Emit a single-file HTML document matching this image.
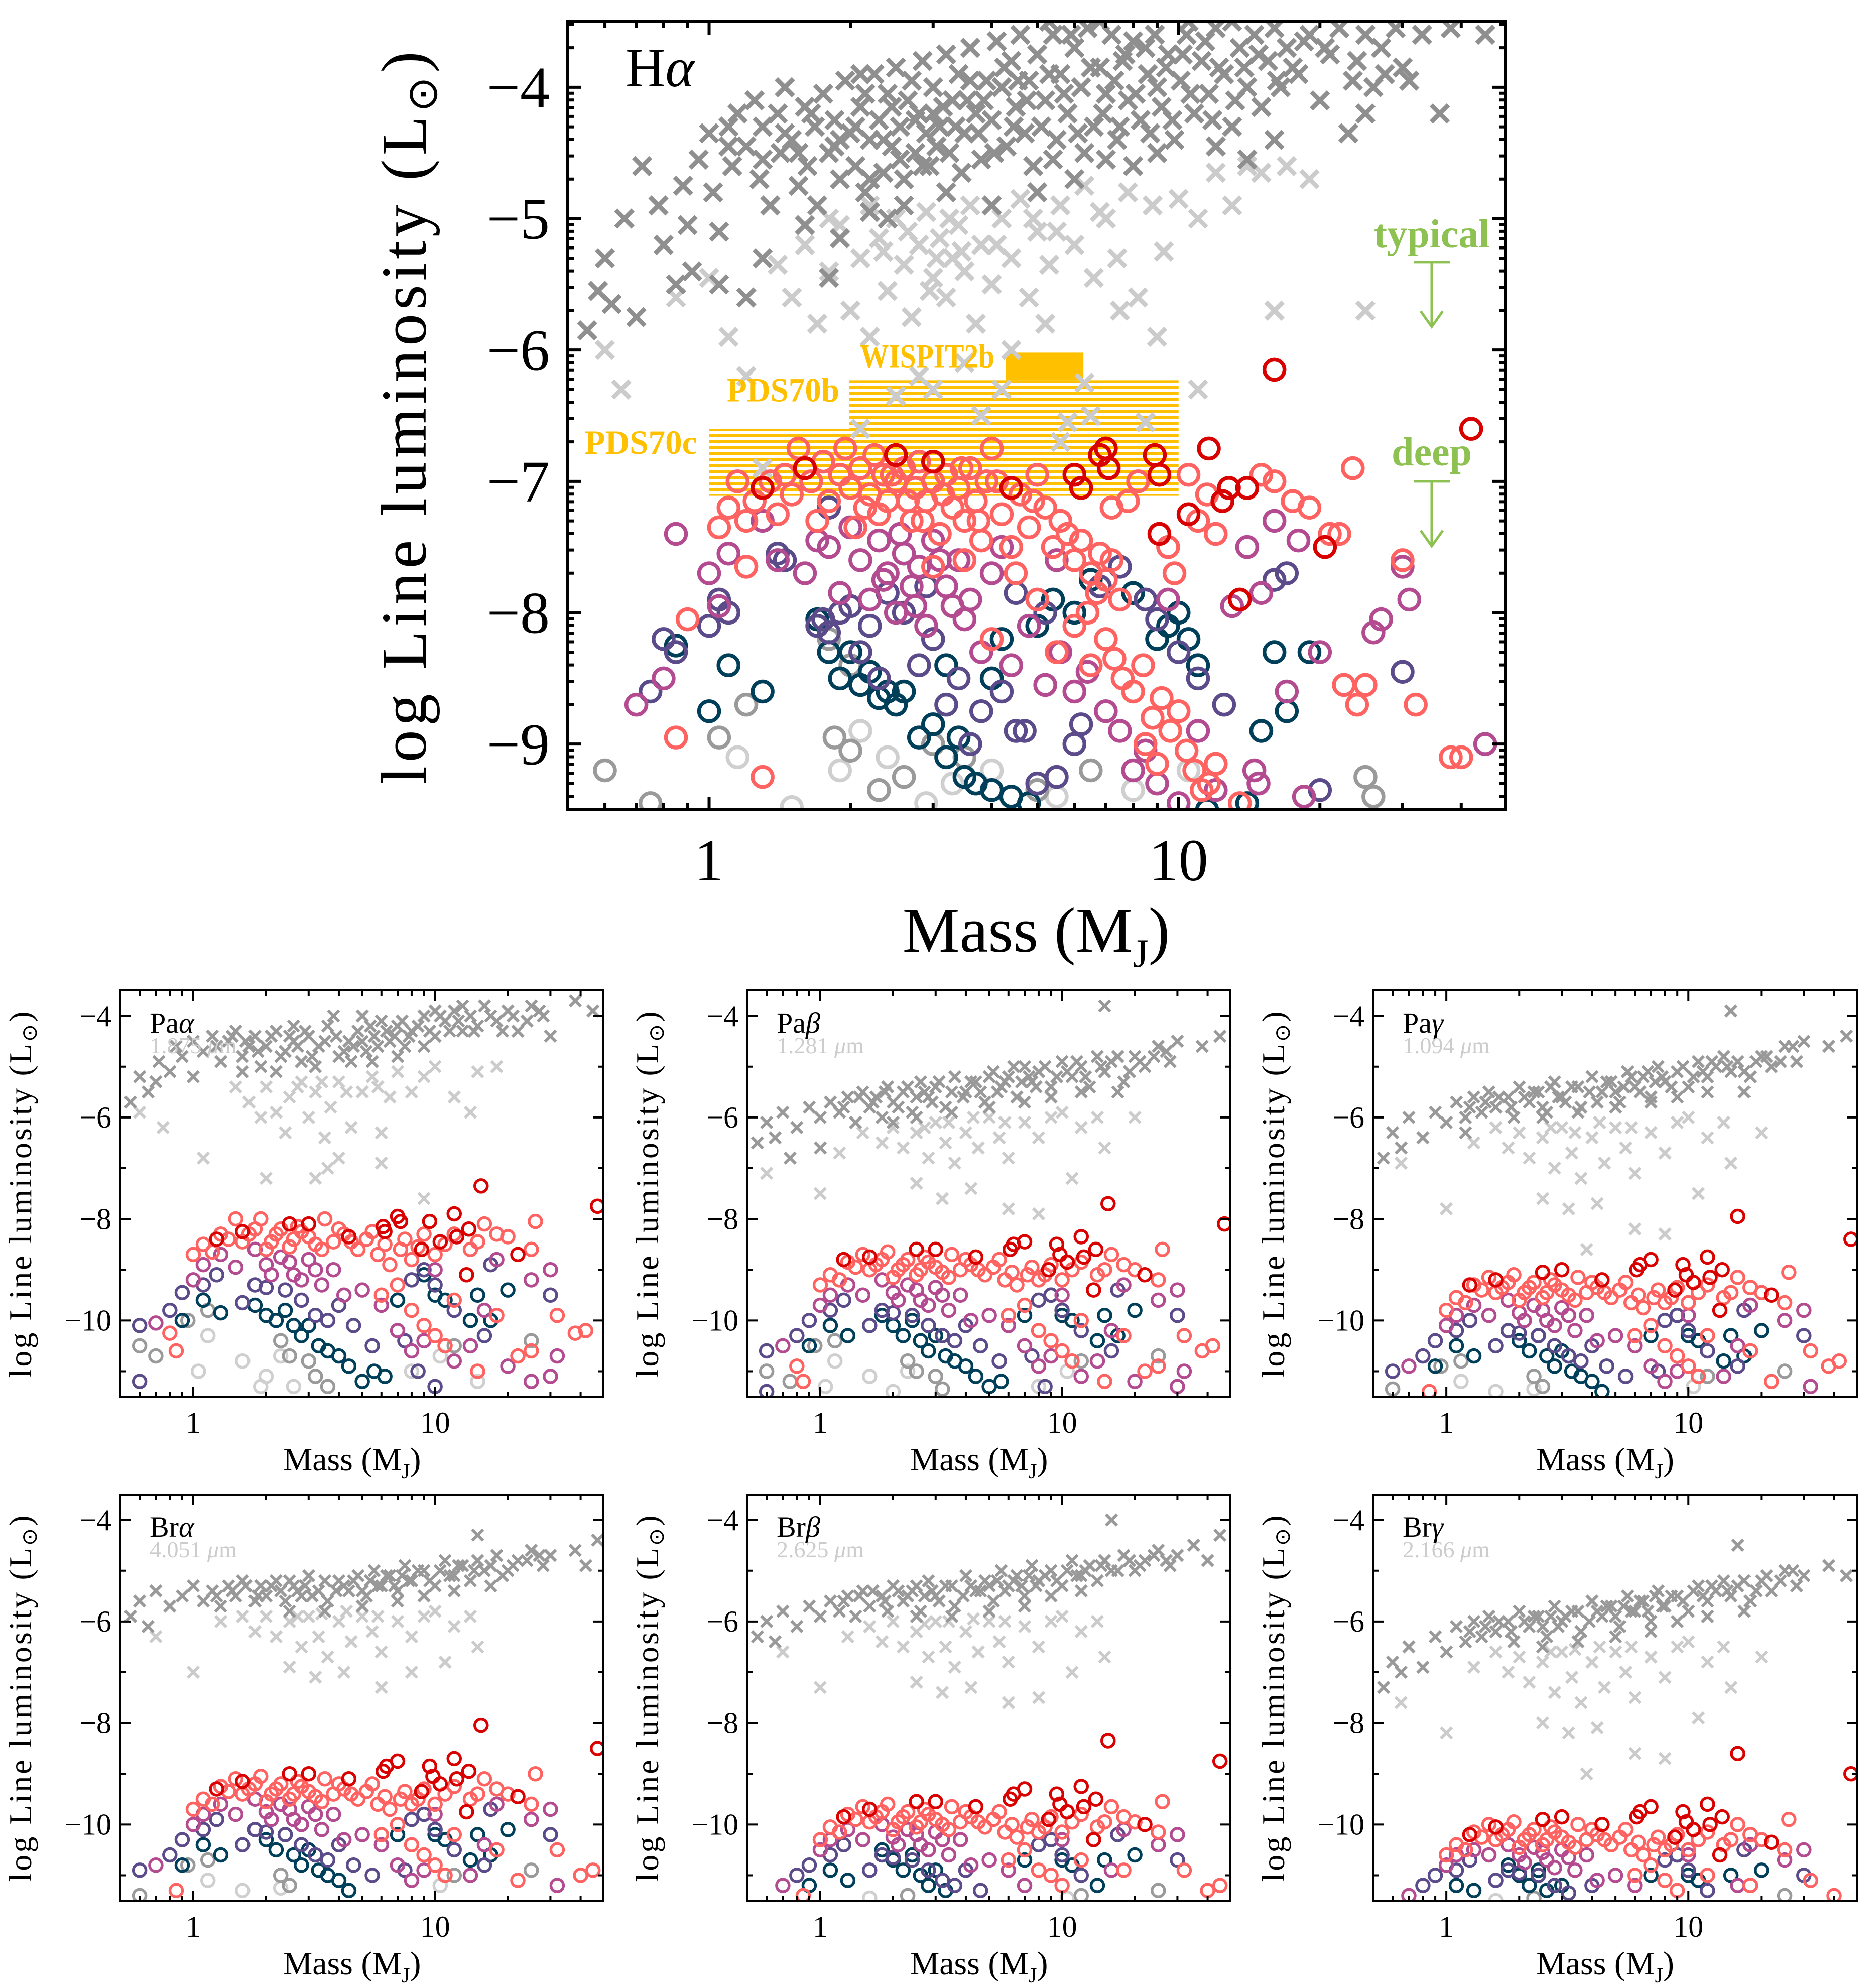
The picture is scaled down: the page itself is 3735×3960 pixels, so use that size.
<!DOCTYPE html>
<html><head><meta charset="utf-8"><title>Line luminosity vs mass</title>
<style>html,body{margin:0;padding:0;background:#fff}svg{display:block}</style></head>
<body>
<svg id="fig" xmlns="http://www.w3.org/2000/svg" width="3735" height="3960" viewBox="0 0 3735 3960" font-family="'Liberation Serif', serif">
<defs>
<pattern id="hatch" patternUnits="userSpaceOnUse" width="20" height="12"><rect x="0" y="0" width="20" height="7" fill="#ffc000"/></pattern>
</defs>
</svg>
<script>
// ---------- Hα panel data [mass (MJ), log L] ----------
const haDark=[[0.55,-5.85],[0.58,-5.55],[0.62,-5.65],[0.6,-5.3],[0.66,-5.0],[0.7,-5.75],[0.72,-4.6],[0.78,-4.9],[0.8,-5.2],[0.85,-5.5],[0.88,-4.75],[0.92,-5.4],[0.95,-4.55],[1.0,-4.35],[1.02,-4.8],[1.05,-5.1],[1.1,-4.3],[1.12,-4.6],[1.15,-4.2],[1.2,-4.45],[1.25,-4.1],[1.28,-4.7],[1.3,-4.3],[1.35,-4.9],[1.4,-4.2],[1.42,-4.5],[1.45,-4.0],[1.5,-4.4],[1.55,-4.75],[1.6,-4.15],[1.62,-4.6],[1.68,-4.3],[1.7,-4.9],[1.75,-4.05],[1.8,-4.5],[1.85,-4.25],[1.9,-4.7],[1.95,-3.95],[2.0,-4.35],[2.05,-4.6],[2.1,-4.15],[2.15,-4.8],[2.2,-4.4],[2.25,-3.9],[2.3,-4.25],[2.35,-4.65],[2.4,-4.05],[2.45,-4.45],[2.5,-3.85],[2.55,-4.3],[2.6,-4.7],[2.65,-4.1],[2.7,-3.95],[2.75,-4.5],[2.8,-4.2],[2.85,-3.8],[2.9,-4.35],[2.95,-4.6],[3.0,-4.0],[3.1,-4.3],[3.2,-3.75],[3.25,-4.5],[3.3,-4.1],[3.4,-3.9],[3.5,-4.35],[3.6,-3.7],[3.7,-4.2],[3.8,-4.55],[3.9,-3.95],[4.0,-4.25],[4.1,-3.65],[4.2,-4.0],[4.3,-4.45],[4.4,-3.8],[4.5,-4.15],[4.6,-3.6],[4.7,-4.35],[4.8,-3.95],[4.9,-4.6],[5.0,-3.75],[5.2,-4.1],[5.4,-3.6],[5.5,-4.4],[5.6,-3.9],[5.8,-4.2],[6.0,-3.7],[6.2,-4.0],[6.4,-3.55],[6.6,-4.3],[6.8,-3.85],[7.0,-4.05],[7.2,-3.6],[7.4,-4.4],[7.6,-3.8],[7.8,-4.1],[8.0,-3.65],[8.3,-4.25],[8.6,-3.9],[8.9,-3.6],[9.2,-4.15],[9.5,-3.75],[9.8,-4.4],[10.1,-3.95],[10.4,-3.6],[10.8,-4.2],[11.2,-3.8],[11.6,-4.05],[12,-3.55],[12.5,-3.9],[13,-4.3],[13.5,-3.7],[14,-4.0],[14.5,-3.6],[15,-4.15],[15.5,-3.8],[16,-3.55],[16.5,-4.0],[17,-3.7],[18,-3.9],[19,-3.6],[20,-4.1],[21,-3.75],[22,-3.55],[23,-4.35],[24,-3.8],[25,-3.6],[26,-4.0],[27,-3.7],[29,-3.55],[30,-3.85],[33,-3.6],[36,-4.2],[38,-3.55],[45,-3.6],[12,-4.45],[14,-4.55],[8,-4.6],[6,-4.7],[5,-4.8],[4,-4.9],[3.2,-4.8],[2.4,-5.0],[2.2,-4.95],[1.9,-5.15],[1.6,-5.05],[1.3,-5.3],[1.2,-5.6],[1.05,-5.5],[0.9,-5.05],[1.8,-5.45],[2.6,-4.9],[9,-4.5],[7,-4.55],[16,-4.4],[25,-4.2],[31,-3.95],[2.1,-3.9],[3.6,-3.95],[5.3,-3.5],[6.8,-3.5],[10.5,-3.5],[13,-3.5]];
const haDarkExtra=[[1.55,-4.5],[1.65,-4.2],[1.85,-4.45],[2.05,-4.3],[2.15,-4.05],[2.35,-4.4],[2.45,-4.15],[2.55,-4.55],[2.75,-4.25],[2.85,-4.6],[3.05,-4.45],[3.15,-4.15],[3.35,-4.3],[3.45,-4.65],[3.55,-4.1],[3.75,-4.35],[3.85,-4.1],[4.05,-4.5],[4.25,-3.85],[4.45,-4.3],[4.55,-3.95],[4.75,-4.1],[5.1,-4.3],[5.3,-3.9],[5.7,-4.05],[5.9,-3.6],[6.1,-4.35],[6.5,-3.85],[6.9,-4.2],[7.3,-3.95],[7.7,-3.75],[8.1,-4.05],[8.5,-3.7],[9.0,-4.0],[9.4,-3.85],[10.2,-3.75],[10.6,-4.05],[11.4,-3.65],[12.2,-3.85],[13.2,-4.1],[13.8,-3.85],[14.8,-3.75],[16.2,-3.95],[17.5,-3.85],[18.5,-3.65],[20.5,-3.7],[23.5,-3.95],[27.5,-3.9],[11.8,-4.25],[9.7,-4.25],[8.7,-4.35],[7.5,-4.3],[6.3,-4.5],[5.4,-4.55],[3.0,-4.2],[2.2,-4.7],[1.9,-4.4],[1.45,-4.35],[1.3,-4.55],[1.1,-4.45]];
const haLight=[[0.6,-6.0],[0.65,-6.3],[0.85,-5.6],[1.0,-5.45],[1.1,-5.9],[1.2,-6.2],[1.4,-5.35],[1.5,-5.6],[1.6,-5.2],[1.7,-5.8],[1.8,-5.4],[1.9,-5.05],[2.0,-5.7],[2.1,-5.3],[2.2,-5.9],[2.3,-5.15],[2.4,-5.55],[2.5,-5.0],[2.6,-5.35],[2.7,-5.75],[2.8,-5.2],[2.9,-4.95],[3.0,-5.45],[3.1,-5.15],[3.2,-5.6],[3.3,-5.3],[3.4,-5.05],[3.5,-5.4],[3.6,-4.9],[3.7,-5.8],[3.8,-5.2],[4.0,-5.5],[4.2,-5.0],[4.4,-5.3],[4.6,-4.85],[4.8,-5.6],[5.0,-5.1],[5.3,-5.35],[5.6,-4.9],[6.0,-5.2],[6.3,-4.75],[6.6,-5.45],[7.0,-5.0],[7.4,-5.3],[7.8,-4.8],[8.2,-5.6],[8.8,-4.9],[9.3,-5.25],[10,-4.85],[11,-5.0],[12,-4.65],[13,-4.9],[14,-4.6],[15,-4.65],[17,-4.6],[19,-4.7],[5.2,-5.8],[4.4,-6.0],[3.5,-6.1],[2.8,-6.2],[3.8,-6.5],[5.8,-6.55],[6.3,-6.25],[7.5,-5.7],[9,-5.9],[6.5,-6.5],[11,-6.3],[4.2,-6.3],[3.0,-6.3],[2.5,-6.35],[2.1,-6.6],[1.3,-6.9],[5.6,-6.7],[8.5,-6.55],[16,-5.7],[25,-5.7],[2.2,-4.9],[1.8,-5.0],[2.35,-5.25],[2.65,-5.1],[3.05,-5.3],[3.25,-5.0],[3.45,-5.25],[2.95,-5.55],[4.1,-5.2],[4.9,-5.0],[5.5,-5.1],[6.8,-4.95]];
const haRed=[[1.3,-7.05],[1.6,-6.9],[2.5,-6.8],[3.0,-6.85],[4.4,-7.05],[6.0,-6.95],[6.2,-7.05],[6.8,-6.8],[7.1,-6.9],[7.0,-6.75],[8.9,-6.8],[9.1,-6.95],[11.6,-6.75],[10.5,-7.25],[12.4,-7.15],[12.8,-7.05],[14.0,-7.05],[9.1,-7.4],[13.5,-7.9],[20.5,-7.5],[16,-6.15],[42,-6.6]];
const haSalmon=[[1.05,-7.35],[1.1,-7.2],[1.15,-7.0],[1.2,-7.3],[1.25,-7.15],[1.35,-7.0],[1.4,-7.25],[1.45,-6.95],[1.5,-7.1],[1.55,-6.75],[1.65,-7.0],[1.7,-7.3],[1.75,-6.85],[1.8,-7.15],[1.9,-6.95],[1.95,-6.75],[2.0,-7.05],[2.05,-7.35],[2.1,-6.9],[2.2,-7.1],[2.25,-6.8],[2.3,-7.25],[2.35,-6.95],[2.4,-7.15],[2.5,-7.0],[2.6,-6.9],[2.7,-7.3],[2.75,-7.05],[2.8,-6.85],[2.9,-7.15],[3.0,-7.0],[3.1,-7.4],[3.2,-6.95],[3.3,-7.2],[3.4,-7.05],[3.5,-7.3],[3.6,-6.9],[3.7,-7.15],[3.8,-7.45],[3.9,-7.0],[4.0,-6.75],[4.2,-7.25],[4.4,-7.5],[4.6,-7.1],[4.8,-7.35],[5.0,-6.95],[5.2,-7.2],[5.4,-7.5],[5.6,-7.3],[6.0,-7.6],[6.2,-7.45],[6.5,-7.7],[6.8,-7.55],[7.0,-7.75],[7.2,-7.6],[7.5,-7.9],[7.8,-7.15],[8.2,-7.0],[9.5,-7.5],[9.8,-7.7],[10.5,-6.95],[11,-7.3],[11.5,-7.1],[12,-7.4],[15,-6.95],[16,-7.0],[17.5,-7.15],[19,-7.2],[21,-7.4],[22,-7.4],[23.5,-6.9],[30,-7.6],[32,-8.7],[38,-9.1],[40,-9.1],[25,-8.55],[24,-8.7],[22.5,-8.55],[5,-7.9],[4.5,-7.7],[3.5,-7.6],[3.0,-7.65],[4.0,-8.2],[5.5,-8.3],[6.0,-8.1],[6.5,-8.4],[7.0,-8.2],[7.3,-8.35],[7.6,-8.5],[8,-8.6],[8.4,-8.4],[8.8,-8.8],[9.2,-8.65],[9.6,-8.9],[10,-8.75],[10.4,-9.05],[10.8,-9.2],[11.2,-9.35],[11.6,-9.3],[12,-9.15],[13.5,-9.45],[8.5,-9.0],[9.0,-9.15],[1.3,-9.25],[0.85,-8.95],[0.9,-8.05],[1.2,-7.65],[7.2,-7.2],[6.7,-7.85],[6.4,-8.0],[2.15,-7.2],[2.45,-6.95],[2.65,-7.15],[2.85,-7.3],[3.15,-7.1],[3.45,-6.9],[3.75,-7.3],[4.1,-7.0],[4.9,-7.15],[5.8,-7.4]];
const haMagenta=[[0.85,-7.4],[1.0,-7.7],[1.1,-7.55],[1.3,-7.3],[1.4,-7.6],[1.6,-7.7],[1.8,-7.5],[1.9,-7.85],[2.0,-7.35],[2.1,-7.6],[2.2,-7.9],[2.3,-7.45],[2.4,-7.7],[2.5,-8.0],[2.6,-7.55],[2.7,-7.8],[2.8,-7.65],[2.9,-8.1],[3.0,-7.45],[3.2,-7.8],[3.4,-7.6],[3.6,-7.9],[3.8,-8.3],[4.0,-7.7],[4.4,-8.4],[4.8,-8.1],[5.2,-8.55],[5.6,-8.3],[6.0,-8.6],[6.4,-8.45],[7.0,-8.75],[7.5,-8.9],[8,-9.2],[8.5,-9.05],[9,-9.3],[10,-9.45],[11,-8.9],[12,-9.35],[13,-7.95],[14,-7.5],[15,-7.85],[16,-7.3],[17,-8.6],[18,-7.45],[20,-8.3],[26,-8.15],[27,-8.05],[30,-7.65],[31,-7.9],[45,-9.0],[0.7,-8.7],[0.8,-8.5],[1.05,-7.95],[1.7,-7.45],[3.5,-8.05],[9.5,-7.9],[14.5,-9.2],[14.8,-9.3],[18.5,-9.4],[5.5,-7.6],[4.2,-7.5],[2.35,-7.75],[2.55,-7.4],[2.75,-7.95],[3.1,-7.6],[3.3,-7.95]];
const haPurple=[[0.8,-8.2],[0.85,-8.3],[1.0,-8.1],[1.05,-7.9],[1.1,-8.0],[1.4,-7.55],[1.45,-7.6],[1.7,-8.1],[1.75,-8.05],[1.8,-8.15],[1.9,-8.0],[2.0,-7.95],[2.1,-8.3],[2.2,-8.1],[2.3,-8.5],[2.6,-8.0],[2.8,-8.4],[3.0,-8.2],[3.2,-8.7],[3.4,-8.5],[3.6,-9.0],[3.8,-8.75],[4.2,-8.6],[4.5,-8.9],[4.7,-8.9],[5,-9.3],[5.5,-9.25],[6,-9.0],[6.2,-8.85],[6.8,-7.8],[7.5,-7.65],[8.5,-7.9],[9,-8.05],[10,-8.3],[11,-8.5],[12.5,-8.7],[16,-7.75],[17,-7.7],[20,-9.35],[30,-8.45],[0.75,-8.6],[1.8,-7.2],[4.5,-7.85],[5.2,-8.0],[2.4,-7.85],[2.9,-7.8]];
const haTeal=[[0.85,-8.25],[1.0,-8.75],[1.1,-8.4],[1.3,-8.6],[1.7,-8.05],[1.8,-8.3],[1.9,-8.5],[2.0,-8.3],[2.1,-8.55],[2.2,-8.45],[2.3,-8.65],[2.5,-8.7],[2.6,-8.6],[2.8,-8.95],[2.4,-8.6],[3.0,-8.85],[3.2,-9.1],[3.4,-8.95],[3.5,-9.25],[3.7,-9.3],[4.0,-9.35],[4.4,-9.4],[4.8,-9.45],[5.0,-8.1],[5.4,-7.9],[6.0,-8.0],[6.5,-7.75],[8,-7.85],[9,-8.2],[10,-8.0],[10.5,-8.2],[11,-8.4],[9.5,-8.1],[15,-8.9],[16,-8.3],[17,-8.75],[19,-8.3],[14,-9.45],[11.5,-9.5],[3.2,-8.4],[4.0,-8.5],[4.2,-8.2]];
const haGray=[[0.6,-9.2],[0.75,-9.45],[1.05,-8.95],[1.2,-8.7],[1.85,-8.95],[2.0,-9.05],[2.3,-9.35],[2.6,-9.25],[3.0,-9.0],[3.5,-9.1],[5,-9.35],[6.5,-9.2],[25,-9.25],[26,-9.4],[2.0,-8.4],[1.8,-8.2]];
const haLGray=[[1.15,-9.1],[1.5,-9.48],[1.9,-9.2],[2.4,-9.1],[2.9,-9.45],[3.3,-9.3],[4,-9.2],[5.5,-9.4],[8,-9.35],[10.5,-9.2],[2.1,-8.9]];
// observed planets: [mass min, mass max, logL top, logL bottom]
const pdsC=[1.0,10.0,-6.6,-7.11];
const pdsB=[1.99,10.0,-6.23,-6.6];
const wispit=[4.28,6.27,-6.02,-6.23];
// sensitivity limits (log L)
const typicalLimit=-5.33;
const deepLimit=-7.0;
// axis ticks
const haYTicks=[-9,-8,-7,-6,-5,-4];
const smYTicks=[-10,-8,-6,-4];
const xTickVals=[1,10];

// ---------- small panels ----------
const paaDark=[[0.55,-5.7],[0.6,-5.2],[0.65,-5.5],[0.72,-4.9],[0.8,-5.1],[0.85,-4.6],[0.9,-4.8],[1.0,-4.5],[1.1,-4.7],[1.2,-4.4],[1.3,-4.9],[1.4,-4.5],[1.5,-4.3],[1.6,-4.8],[1.7,-4.6],[1.8,-4.4],[1.9,-5.0],[2.0,-4.6],[2.2,-4.3],[2.4,-4.7],[2.6,-4.5],[2.8,-4.9],[3.0,-4.4],[3.3,-4.6],[3.6,-4.2],[4.0,-4.8],[4.4,-4.5],[4.8,-4.3],[5.2,-4.7],[5.6,-4.4],[6,-4.1],[6.5,-4.5],[7,-4.2],[7.5,-4.6],[8,-4.3],[9,-4.0],[10,-4.4],[11,-4.1],[12,-3.9],[13,-4.3],[14,-4.0],[15,-4.2],[16,-3.8],[18,-4.1],[20,-3.9],[22,-4.3],[25,-3.8],[28,-4.0],[30,-4.4],[38,-3.7],[45,-3.9],[1.6,-5.1],[2.2,-5.1],[3.2,-5.0],[4.5,-4.9],[5.5,-4.9],[7,-4.8],[9,-4.6],[2.6,-4.2],[3.8,-4.0],[5,-4.0],[10,-3.9],[13,-3.8],[0.7,-5.3],[1.0,-5.2],[1.25,-4.6],[1.45,-4.4],[1.65,-4.5],[1.85,-4.7],[2.1,-4.4],[2.3,-4.8],[2.5,-4.4],[2.7,-4.6],[2.9,-4.3],[3.1,-4.8],[3.5,-4.5],[3.9,-4.4],[4.2,-4.7],[4.6,-4.6],[5.0,-4.5],[5.4,-4.2],[5.8,-4.6],[6.3,-4.3],[6.8,-4.4],[7.3,-4.1],[7.8,-4.4],[8.5,-4.2],[9.5,-4.3],[10.5,-4.0],[11.5,-4.3],[12.5,-4.1],[14.5,-4.3],[17,-4.0],[19,-4.3],[21,-4.0],[24,-4.1],[27,-3.9]];
const paaLight=[[0.6,-5.9],[1.5,-5.4],[1.7,-5.7],[1.9,-6.0],[2.0,-5.4],[2.2,-5.9],[2.4,-6.3],[2.5,-5.6],[2.8,-5.3],[3.0,-6.0],[3.2,-5.5],[3.5,-6.4],[3.7,-5.8],[4.0,-5.3],[4.5,-6.2],[5,-5.5],[5.5,-5.2],[6,-6.3],[6.5,-5.6],[7,-5.1],[8,-5.5],[9,-5.2],[10,-5.0],[12,-5.6],[15,-5.1],[3.2,-7.2],[2.0,-7.2],[3.6,-7.0],[4.0,-6.8],[1.1,-6.8],[0.75,-6.2],[6,-6.9],[9,-7.6],[14,-5.9],[18,-5.0],[2.7,-5.4],[3.4,-5.3],[4.3,-5.5],[5.8,-5.4]];
const paaRed=[[1.25,-8.4],[1.6,-8.25],[2.5,-8.1],[3.0,-8.1],[4.4,-8.35],[6.1,-8.15],[6.2,-8.25],[7.0,-7.95],[7.2,-8.05],[9.5,-8.05],[10.5,-8.45],[12,-7.9],[12.3,-8.35],[13.8,-8.2],[8.8,-8.6],[13.5,-9.1],[22,-8.7],[15.5,-7.35],[47,-7.75]];
const paaSalmon=[[1.0,-8.7],[1.1,-8.5],[1.2,-8.65],[1.4,-8.4],[1.5,-8.0],[1.7,-8.3],[1.9,-8.0],[2.1,-8.45],[2.3,-8.2],[2.6,-8.4],[2.8,-8.25],[3.2,-8.5],[3.5,-8.0],[3.8,-8.45],[4.2,-8.3],[4.8,-8.6],[5.2,-8.4],[5.8,-8.7],[6.5,-8.9],[7.2,-8.6],[8,-8.8],[9,-8.3],[10,-8.7],[11,-8.5],[14,-8.6],[16,-8.1],[18,-8.3],[20,-8.35],[25,-8.6],[26,-8.05],[32,-9.9],[38,-10.25],[42,-10.2],[6,-9.5],[7,-9.3],[8,-9.8],[9,-10.1],[10,-10.3],[11,-10.5],[12,-9.6],[18,-9.9],[22,-10.7],[25,-10.6],[15,-11.0],[0.8,-10.25],[0.85,-10.6],[1.3,-8.3],[1.6,-8.45],[1.8,-8.2],[2.0,-8.6],[2.2,-8.3],[2.5,-8.55],[2.7,-8.15],[3.0,-8.35],[3.4,-8.6],[4.0,-8.2],[4.5,-8.45],[5.5,-8.25],[6.2,-8.5],[7.5,-8.4],[8.5,-8.55],[12,-8.3],[15,-8.45]];
const paaMagenta=[[0.7,-10.05],[1.0,-9.2],[1.1,-8.9],[1.3,-8.7],[1.5,-8.95],[1.8,-8.6],[2.0,-8.9],[2.3,-8.75],[2.6,-9.1],[3.0,-8.8],[3.4,-9.3],[3.8,-9.0],[4.2,-9.5],[5,-9.4],[6,-9.7],[7,-10.2],[8,-10.6],[9,-10.4],[10,-9.0],[12,-10.8],[14,-10.5],[16,-9.8],[18,-8.8],[20,-10.9],[25,-9.2],[30,-9.0],[32,-10.7],[30,-11.1],[25,-11.2],[2.1,-9.1],[2.5,-8.85],[2.8,-9.2],[3.2,-9.0]];
const paaPurple=[[0.6,-10.1],[0.8,-9.8],[0.9,-9.45],[1.1,-9.3],[1.25,-9.1],[1.6,-9.65],[1.8,-9.3],[2.0,-9.35],[2.4,-9.4],[2.8,-9.6],[3.2,-9.9],[3.6,-10.0],[4.0,-9.7],[4.6,-10.1],[5.5,-10.5],[7.5,-10.4],[8,-9.2],[9,-9.0],[10,-9.3],[12,-9.8],[16,-10.3],[17,-8.9],[30,-9.5],[0.6,-11.2],[8.5,-11.0],[10,-11.3]];
const paaTeal=[[0.9,-10.0],[1.1,-9.6],[1.3,-9.85],[1.8,-9.7],[2.0,-9.9],[2.2,-10.0],[2.4,-9.8],[2.6,-10.1],[2.8,-10.3],[3.0,-10.1],[3.3,-10.5],[3.6,-10.6],[4.0,-10.7],[4.4,-10.9],[5.0,-11.2],[5.6,-11.0],[6.2,-11.1],[7,-9.6],[9,-9.1],[10,-9.5],[11,-9.6],[14,-10.0],[15,-9.5],[20,-9.4],[17,-10.0]];
const paaGray=[[0.6,-10.5],[0.7,-10.7],[0.95,-10.0],[1.15,-9.8],[2.3,-10.4],[2.5,-10.7],[3.0,-10.8],[3.2,-11.1],[3.6,-11.3],[12,-10.5],[25,-10.4]];
const paaLGray=[[1.05,-11.0],[1.15,-10.3],[1.6,-10.8],[2.0,-11.1],[2.3,-10.7],[2.6,-11.3],[1.9,-11.3],[8,-11.0],[10.5,-10.7],[15,-11.2]];

const pabDark=[[0.55,-6.5],[0.6,-6.1],[0.65,-6.4],[0.7,-5.9],[0.8,-6.2],[0.9,-5.8],[1.0,-6.0],[1.1,-5.7],[1.2,-5.9],[1.3,-5.6],[1.4,-6.1],[1.5,-5.5],[1.6,-5.8],[1.7,-5.6],[1.8,-6.0],[1.9,-5.4],[2.0,-5.7],[2.2,-5.5],[2.4,-5.9],[2.6,-5.3],[2.8,-5.6],[3.0,-5.4],[3.3,-5.8],[3.6,-5.2],[4.0,-5.5],[4.4,-5.3],[4.8,-5.7],[5.2,-5.1],[5.6,-5.4],[6,-5.2],[6.5,-5.6],[7,-5.0],[7.5,-5.3],[8,-5.1],[9,-5.4],[10,-4.9],[11,-5.2],[12,-5.0],[13,-5.4],[14,-4.8],[15,-5.1],[16,-4.9],[18,-5.3],[20,-4.8],[22,-5.0],[25,-4.6],[28,-4.9],[30,-4.5],[38,-4.6],[45,-4.4],[15,-3.8],[2.5,-6.0],[3.5,-5.9],[5,-5.8],[7,-5.7],[9,-5.6],[12,-5.5],[17,-5.5],[2.0,-6.1],[1.0,-6.6],[0.75,-6.8],[1.25,-5.8],[1.45,-5.6],[1.65,-5.7],[1.85,-5.5],[2.1,-5.8],[2.3,-5.4],[2.5,-5.6],[2.7,-5.5],[2.9,-5.7],[3.1,-5.3],[3.5,-5.5],[3.9,-5.6],[4.2,-5.3],[4.6,-5.5],[5.0,-5.2],[5.4,-5.5],[5.8,-5.3],[6.3,-5.0],[6.8,-5.3],[7.3,-5.2],[7.8,-5.4],[8.5,-5.0],[9.5,-5.2],[10.5,-5.1],[11.5,-4.9],[12.5,-5.2],[14.5,-5.0],[17,-4.8],[19,-5.1],[21,-4.9],[24,-4.8],[27,-4.7]];
const pabLight=[[0.6,-7.1],[1.2,-6.7],[1.5,-6.3],[1.8,-6.5],[2.0,-6.2],[2.2,-6.6],[2.5,-6.3],[2.8,-6.8],[3.0,-6.1],[3.3,-6.5],[3.6,-6.9],[4.0,-6.3],[4.5,-6.6],[5,-6.0],[5.5,-6.4],[6,-6.8],[7,-6.1],[8,-6.4],[9,-6.0],[10,-5.9],[12,-6.2],[14,-6.0],[3.2,-7.6],[2.5,-7.3],[4.2,-7.4],[6,-7.8],[8,-7.9],[11,-7.2],[15,-6.6],[20,-6.0],[1.0,-7.5],[2.7,-6.2],[3.4,-6.1],[4.3,-6.0],[5.8,-6.1]];
const pabRed=[[1.25,-8.8],[1.6,-8.75],[2.5,-8.6],[3.0,-8.6],[4.4,-8.75],[6.1,-8.6],[6.3,-8.5],[7.0,-8.45],[9.5,-8.5],[10.5,-8.85],[12,-8.35],[12.3,-8.75],[13.8,-8.6],[8.8,-9.0],[13.5,-9.4],[22,-9.1],[15.5,-7.7],[47,-8.1],[9.8,-8.7]];
const pabSalmon=[[1.0,-9.3],[1.1,-9.1],[1.2,-9.2],[1.4,-8.95],[1.5,-8.7],[1.7,-8.9],[1.9,-8.65],[2.1,-9.0],[2.3,-8.8],[2.6,-9.0],[2.8,-8.85],[3.2,-9.05],[3.5,-8.7],[3.8,-9.0],[4.2,-8.9],[4.8,-9.1],[5.2,-8.95],[5.8,-9.2],[6.5,-9.3],[7.2,-9.1],[8,-9.2],[9,-8.9],[10,-9.2],[11,-9.0],[14,-9.1],[16,-8.7],[18,-8.9],[20,-9.0],[25,-9.2],[26,-8.6],[32,-10.3],[38,-10.6],[42,-10.5],[6,-9.9],[7,-9.7],[8,-10.2],[9,-10.4],[10,-10.6],[11,-10.8],[12,-10.0],[18,-10.3],[22,-11.0],[25,-10.9],[15,-11.2],[0.8,-10.9],[0.85,-11.2],[1.3,-8.85],[1.6,-9.0],[1.8,-8.8],[2.0,-9.15],[2.2,-8.9],[2.5,-9.1],[2.7,-8.75],[3.0,-8.95],[3.4,-9.15],[4.0,-8.8],[4.5,-9.0],[5.5,-8.8],[6.2,-9.05],[7.5,-8.95],[8.5,-9.1],[12,-8.85],[15,-9.0]];
const pabMagenta=[[0.7,-10.5],[1.0,-9.7],[1.1,-9.5],[1.3,-9.3],[1.5,-9.5],[1.8,-9.2],[2.0,-9.45],[2.3,-9.3],[2.6,-9.6],[3.0,-9.35],[3.4,-9.8],[3.8,-9.5],[4.2,-10.0],[5,-9.9],[6,-10.1],[7,-10.5],[8,-10.9],[9,-10.7],[10,-9.5],[12,-11.1],[14,-10.8],[16,-10.2],[18,-9.3],[20,-11.2],[25,-9.6],[30,-9.4],[32,-11.0],[30,-11.3],[2.1,-9.6],[2.5,-9.4],[2.8,-9.7],[3.2,-9.5]];
const pabPurple=[[0.6,-10.6],[0.8,-10.3],[0.9,-10.0],[1.1,-9.8],[1.25,-9.6],[1.6,-10.1],[1.8,-9.8],[2.0,-9.85],[2.4,-9.9],[2.8,-10.1],[3.2,-10.3],[3.6,-10.4],[4.0,-10.1],[4.6,-10.5],[5.5,-10.8],[7.5,-10.7],[8,-9.6],[9,-9.5],[10,-9.8],[12,-10.2],[16,-10.6],[17,-9.4],[30,-9.9],[0.6,-11.4],[8.5,-11.3]];
const pabTeal=[[0.9,-10.5],[1.1,-10.1],[1.3,-10.3],[1.8,-9.9],[2.0,-10.1],[2.2,-10.3],[2.4,-10.0],[2.6,-10.4],[2.8,-10.6],[3.0,-10.3],[3.3,-10.7],[3.6,-10.8],[4.0,-10.9],[4.4,-11.1],[5.0,-11.3],[5.6,-11.2],[7,-9.9],[9,-9.5],[10,-9.9],[11,-10.0],[14,-10.4],[15,-9.9],[20,-9.8],[17,-10.3]];
const pabGray=[[0.6,-11.0],[0.75,-11.2],[0.95,-10.5],[1.15,-10.4],[2.3,-10.8],[2.5,-11.0],[3.0,-11.1],[3.2,-11.35],[12,-10.8],[25,-10.7]];
const pabLGray=[[1.05,-11.3],[1.15,-10.8],[1.6,-11.1],[2.0,-11.4],[2.3,-11.0],[8,-11.3],[10.5,-11.0]];

const pagDark=[[0.55,-6.8],[0.6,-6.3],[0.7,-6.0],[0.8,-6.4],[0.9,-5.9],[1.0,-6.1],[1.1,-5.7],[1.2,-6.0],[1.3,-5.6],[1.4,-5.9],[1.5,-5.5],[1.6,-5.8],[1.8,-5.6],[1.9,-6.0],[2.0,-5.4],[2.2,-5.7],[2.4,-5.5],[2.6,-5.9],[2.8,-5.3],[3.0,-5.6],[3.3,-5.4],[3.6,-5.8],[4.0,-5.2],[4.4,-5.5],[4.8,-5.3],[5.2,-5.7],[5.6,-5.1],[6,-5.4],[6.5,-5.2],[7,-5.6],[7.5,-5.0],[8,-5.3],[9,-5.1],[10,-5.4],[11,-4.9],[12,-5.2],[13,-5.0],[14,-4.8],[15,-5.1],[16,-4.9],[18,-5.2],[20,-4.8],[22,-5.0],[25,-4.6],[28,-4.9],[30,-4.5],[38,-4.6],[45,-4.4],[15,-3.9],[2.5,-6.0],[3.5,-5.9],[5,-5.8],[7,-5.7],[9,-5.6],[12,-5.5],[17,-5.5],[1.2,-6.3],[0.65,-6.6],[1.25,-5.8],[1.45,-5.7],[1.65,-5.6],[1.85,-5.8],[2.1,-5.6],[2.3,-5.5],[2.5,-5.8],[2.7,-5.4],[2.9,-5.6],[3.1,-5.7],[3.5,-5.4],[3.9,-5.5],[4.2,-5.7],[4.6,-5.3],[5.0,-5.5],[5.4,-5.4],[5.8,-5.2],[6.3,-5.5],[6.8,-5.1],[7.3,-5.3],[7.8,-5.2],[8.5,-5.4],[9.5,-5.0],[10.5,-5.2],[11.5,-5.1],[12.5,-4.9],[14.5,-5.0],[17,-5.1],[19,-4.9],[21,-4.8],[24,-4.9],[27,-4.6]];
const pagLight=[[0.65,-6.9],[1.3,-6.5],[1.6,-6.2],[1.8,-6.6],[2.0,-6.3],[2.2,-6.8],[2.5,-6.4],[2.8,-7.0],[3.0,-6.2],[3.3,-6.7],[3.6,-7.2],[4.0,-6.4],[4.5,-6.9],[5,-6.2],[5.5,-6.6],[6,-7.1],[7,-6.3],[8,-6.7],[9,-6.1],[10,-6.0],[12,-6.4],[14,-6.1],[3.2,-7.8],[2.5,-7.6],[4.2,-7.7],[6,-8.2],[8,-8.3],[11,-7.5],[15,-6.9],[20,-6.3],[1.0,-7.8],[3.8,-8.6],[2.7,-6.2],[3.4,-6.3],[4.3,-6.1],[5.8,-6.2]];
const pagRed=[[1.25,-9.3],[1.6,-9.2],[2.5,-9.05],[3.0,-9.0],[4.4,-9.2],[6.1,-9.0],[6.3,-8.9],[7.0,-8.8],[9.5,-8.9],[10.5,-9.25],[12,-8.75],[12.3,-9.15],[13.8,-9.0],[8.8,-9.4],[13.5,-9.8],[22,-9.5],[16,-7.95],[47,-8.4],[9.8,-9.1]];
const pagSalmon=[[1.0,-9.8],[1.1,-9.55],[1.2,-9.65],[1.4,-9.4],[1.5,-9.15],[1.7,-9.35],[1.9,-9.1],[2.1,-9.45],[2.3,-9.25],[2.6,-9.45],[2.8,-9.3],[3.2,-9.5],[3.5,-9.15],[3.8,-9.45],[4.2,-9.35],[4.8,-9.55],[5.2,-9.4],[5.8,-9.65],[6.5,-9.75],[7.2,-9.55],[8,-9.65],[9,-9.35],[10,-9.65],[11,-9.45],[14,-9.55],[16,-9.15],[18,-9.35],[20,-9.45],[25,-9.65],[26,-9.05],[32,-10.6],[38,-10.9],[42,-10.8],[6,-10.3],[7,-10.1],[8,-10.5],[9,-10.7],[10,-10.9],[11,-11.1],[12,-10.3],[18,-10.6],[22,-11.2],[0.85,-11.4],[1.3,-9.3],[1.6,-9.45],[1.8,-9.25],[2.0,-9.6],[2.2,-9.35],[2.5,-9.55],[2.7,-9.2],[3.0,-9.4],[3.4,-9.6],[4.0,-9.25],[4.5,-9.45],[5.5,-9.25],[6.2,-9.5],[7.5,-9.4],[8.5,-9.55],[12,-9.3],[15,-9.45]];
const pagMagenta=[[0.7,-10.9],[1.0,-10.1],[1.1,-9.9],[1.3,-9.7],[1.5,-9.9],[1.8,-9.6],[2.0,-9.85],[2.3,-9.7],[2.6,-10.0],[3.0,-9.75],[3.4,-10.2],[3.8,-9.9],[4.2,-10.4],[5,-10.3],[6,-10.5],[7,-10.9],[8,-11.2],[9,-11.0],[10,-9.9],[14,-11.1],[16,-10.5],[18,-9.7],[25,-10.0],[30,-9.8],[32,-11.3],[2.1,-10.0],[2.5,-9.8],[2.8,-10.1],[3.2,-9.9]];
const pagPurple=[[0.6,-11.0],[0.8,-10.7],[0.9,-10.4],[1.1,-10.2],[1.25,-10.0],[1.6,-10.5],[1.8,-10.2],[2.0,-10.25],[2.4,-10.3],[2.8,-10.5],[3.2,-10.7],[3.6,-10.8],[4.0,-10.5],[4.6,-10.9],[5.5,-11.1],[7.5,-11.0],[8,-10.0],[9,-9.9],[10,-10.2],[12,-10.6],[16,-10.9],[17,-9.8],[30,-10.3]];
const pagTeal=[[0.9,-10.9],[1.1,-10.5],[1.3,-10.7],[1.8,-10.2],[2.0,-10.4],[2.2,-10.6],[2.4,-10.3],[2.6,-10.7],[2.8,-10.9],[3.0,-10.6],[3.3,-11.0],[3.6,-11.1],[4.0,-11.2],[4.4,-11.4],[7,-10.3],[9,-9.9],[10,-10.3],[11,-10.4],[14,-10.8],[15,-10.3],[20,-10.2],[17,-10.7]];
const pagGray=[[0.6,-11.35],[0.95,-10.9],[1.15,-10.8],[2.3,-11.1],[2.5,-11.3],[12,-11.1],[25,-11.0]];
const pagLGray=[[1.15,-11.2],[1.6,-11.4],[2.3,-11.35],[10.5,-11.3]];

const braDark=[[0.55,-5.9],[0.6,-5.6],[0.7,-5.4],[0.8,-5.7],[0.9,-5.5],[1.0,-5.3],[1.1,-5.6],[1.2,-5.4],[1.3,-5.7],[1.4,-5.3],[1.5,-5.5],[1.6,-5.2],[1.8,-5.6],[1.9,-5.3],[2.0,-5.5],[2.2,-5.2],[2.4,-5.6],[2.6,-5.3],[2.8,-5.5],[3.0,-5.1],[3.3,-5.4],[3.6,-5.6],[4.0,-5.2],[4.4,-5.4],[4.8,-5.1],[5.2,-5.5],[5.6,-5.0],[6,-5.3],[6.5,-5.1],[7,-5.4],[7.5,-4.9],[8,-5.2],[9,-5.0],[10,-5.3],[11,-4.8],[12,-5.1],[13,-4.9],[14,-5.2],[15,-4.8],[16,-5.0],[18,-4.7],[20,-5.0],[22,-4.8],[25,-4.6],[28,-4.9],[30,-4.7],[38,-4.6],[42,-4.9],[47,-4.4],[15,-4.3],[2.5,-5.8],[3.5,-5.8],[5,-5.7],[7,-5.6],[9,-5.5],[12,-5.4],[17,-5.3],[0.65,-6.1],[1.25,-5.5],[1.45,-5.4],[1.65,-5.3],[1.85,-5.5],[2.1,-5.3],[2.3,-5.4],[2.5,-5.2],[2.7,-5.4],[2.9,-5.3],[3.1,-5.5],[3.5,-5.2],[3.9,-5.4],[4.2,-5.3],[4.6,-5.2],[5.0,-5.4],[5.4,-5.2],[5.8,-5.3],[6.3,-5.1],[6.8,-5.3],[7.3,-5.1],[7.8,-5.2],[8.5,-5.0],[9.5,-5.2],[10.5,-5.0],[11.5,-5.1],[12.5,-4.9],[14.5,-5.0],[17,-4.9],[19,-5.1],[21,-4.9],[24,-4.8],[27,-4.7]];
const braLight=[[0.7,-6.3],[1.3,-6.0],[1.6,-5.9],[1.8,-6.2],[2.0,-5.9],[2.2,-6.3],[2.5,-6.0],[2.8,-6.5],[3.0,-5.9],[3.3,-6.3],[3.6,-6.7],[4.0,-6.0],[4.5,-6.4],[5,-5.9],[5.5,-6.2],[6,-6.6],[7,-6.0],[8,-6.3],[9,-5.9],[10,-5.8],[12,-6.1],[14,-5.9],[3.2,-7.1],[2.5,-6.9],[4.2,-7.0],[6,-7.3],[8,-7.0],[11,-6.8],[15,-6.5],[1.0,-7.0],[2.7,-5.9],[3.4,-5.85],[4.3,-5.8],[5.8,-5.9]];
const braRed=[[1.25,-9.3],[1.6,-9.15],[2.5,-9.0],[3.0,-9.0],[4.4,-9.1],[6.1,-8.95],[6.3,-8.85],[7.0,-8.75],[9.5,-8.85],[10.5,-9.2],[12,-8.7],[12.3,-9.1],[13.8,-8.95],[8.8,-9.35],[13.5,-9.75],[22,-9.45],[15.5,-8.05],[47,-8.5],[9.8,-9.05]];
const braSalmon=[[1.0,-9.7],[1.1,-9.5],[1.2,-9.6],[1.4,-9.35],[1.5,-9.1],[1.7,-9.3],[1.9,-9.05],[2.1,-9.4],[2.3,-9.2],[2.6,-9.4],[2.8,-9.25],[3.2,-9.45],[3.5,-9.1],[3.8,-9.4],[4.2,-9.3],[4.8,-9.5],[5.2,-9.35],[5.8,-9.6],[6.5,-9.7],[7.2,-9.5],[8,-9.6],[9,-9.3],[10,-9.6],[11,-9.4],[14,-9.5],[16,-9.1],[18,-9.3],[20,-9.4],[25,-9.6],[26,-9.0],[32,-10.5],[40,-11.0],[45,-10.9],[6,-10.2],[7,-10.0],[8,-10.4],[9,-10.6],[10,-10.8],[11,-11.0],[12,-10.2],[18,-10.5],[22,-11.1],[0.85,-11.3],[1.3,-9.25],[1.6,-9.4],[1.8,-9.2],[2.0,-9.55],[2.2,-9.3],[2.5,-9.5],[2.7,-9.15],[3.0,-9.35],[3.4,-9.55],[4.0,-9.2],[4.5,-9.4],[5.5,-9.2],[6.2,-9.45],[7.5,-9.35],[8.5,-9.5],[12,-9.25],[15,-9.4]];
const braMagenta=[[0.7,-10.8],[1.0,-10.0],[1.1,-9.8],[1.3,-9.6],[1.5,-9.8],[1.8,-9.5],[2.0,-9.75],[2.3,-9.6],[2.6,-9.9],[3.0,-9.65],[3.4,-10.1],[3.8,-9.8],[4.2,-10.3],[5,-10.2],[6,-10.4],[7,-10.8],[8,-11.1],[9,-10.9],[10,-9.8],[14,-11.0],[16,-10.4],[18,-9.6],[25,-9.9],[30,-9.7],[32,-11.2],[2.1,-9.9],[2.5,-9.7],[2.8,-10.0],[3.2,-9.8]];
const braPurple=[[0.6,-10.9],[0.8,-10.6],[0.9,-10.3],[1.1,-10.1],[1.25,-9.9],[1.6,-10.4],[1.8,-10.1],[2.0,-10.15],[2.4,-10.2],[2.8,-10.4],[3.2,-10.6],[3.6,-10.7],[4.0,-10.4],[4.6,-10.8],[5.5,-11.0],[7.5,-10.9],[8,-9.9],[9,-9.8],[10,-10.1],[12,-10.5],[16,-10.8],[17,-9.7],[30,-10.2]];
const braTeal=[[0.9,-10.8],[1.1,-10.4],[1.3,-10.6],[1.8,-10.1],[2.0,-10.3],[2.2,-10.5],[2.4,-10.2],[2.6,-10.6],[2.8,-10.8],[3.0,-10.5],[3.3,-10.9],[3.6,-11.0],[4.0,-11.1],[4.4,-11.3],[7,-10.2],[9,-9.8],[10,-10.2],[11,-10.3],[14,-10.7],[15,-10.2],[20,-10.1],[17,-10.6]];
const braGray=[[0.6,-11.4],[0.95,-10.8],[1.15,-10.7],[2.3,-11.0],[2.5,-11.2],[12,-11.0],[25,-10.9]];
const braLGray=[[1.15,-11.1],[1.6,-11.3],[2.3,-11.25],[10.5,-11.2]];

const brbDark=[[0.55,-6.3],[0.6,-6.0],[0.7,-5.8],[0.8,-6.1],[0.9,-5.7],[1.0,-5.9],[1.1,-5.6],[1.2,-5.8],[1.3,-5.5],[1.4,-5.9],[1.5,-5.4],[1.6,-5.7],[1.8,-5.5],[1.9,-5.8],[2.0,-5.3],[2.2,-5.6],[2.4,-5.4],[2.6,-5.8],[2.8,-5.2],[3.0,-5.5],[3.3,-5.3],[3.6,-5.7],[4.0,-5.1],[4.4,-5.4],[4.8,-5.2],[5.2,-5.6],[5.6,-5.0],[6,-5.3],[6.5,-5.1],[7,-5.5],[7.5,-4.9],[8,-5.2],[9,-5.0],[10,-5.3],[11,-4.8],[12,-5.1],[13,-4.9],[14,-5.2],[15,-4.8],[16,-5.0],[18,-4.7],[20,-5.0],[22,-4.8],[25,-4.6],[28,-4.9],[30,-4.7],[35,-4.5],[40,-4.8],[45,-4.3],[2.5,-5.9],[3.5,-5.9],[5,-5.8],[7,-5.7],[9,-5.5],[12,-5.4],[16,-4.0],[0.65,-6.4],[1.25,-5.6],[1.45,-5.5],[1.65,-5.4],[1.85,-5.6],[2.1,-5.4],[2.3,-5.5],[2.5,-5.3],[2.7,-5.5],[2.9,-5.4],[3.1,-5.6],[3.5,-5.3],[3.9,-5.5],[4.2,-5.3],[4.6,-5.4],[5.0,-5.3],[5.4,-5.2],[5.8,-5.4],[6.3,-5.2],[6.8,-5.3],[7.3,-5.1],[7.8,-5.3],[8.5,-5.1],[9.5,-5.2],[10.5,-5.0],[11.5,-5.1],[12.5,-5.0],[14.5,-4.9],[17,-5.0],[19,-4.8],[21,-4.9],[24,-4.7],[27,-4.8]];
const brbLight=[[0.7,-6.6],[1.3,-6.3],[1.6,-6.1],[1.8,-6.4],[2.0,-6.0],[2.2,-6.5],[2.5,-6.2],[2.8,-6.7],[3.0,-6.0],[3.3,-6.5],[3.6,-6.9],[4.0,-6.2],[4.5,-6.6],[5,-6.0],[5.5,-6.4],[6,-6.8],[7,-6.1],[8,-6.5],[9,-6.0],[10,-5.9],[12,-6.2],[14,-6.0],[3.2,-7.4],[2.5,-7.2],[4.2,-7.3],[6,-7.6],[8,-7.5],[11,-7.0],[15,-6.7],[1.0,-7.3],[2.7,-6.05],[3.4,-6.0],[4.3,-5.95],[5.8,-6.0]];
const brbRed=[[1.25,-9.85],[1.6,-9.7],[2.5,-9.55],[3.0,-9.55],[4.4,-9.65],[6.1,-9.5],[6.3,-9.4],[7.0,-9.3],[9.5,-9.4],[10.5,-9.75],[12,-9.25],[12.3,-9.65],[13.8,-9.5],[8.8,-9.9],[13.5,-10.3],[22,-10.0],[15.5,-8.35],[45,-8.75],[9.8,-9.6]];
const brbSalmon=[[1.0,-10.3],[1.1,-10.05],[1.2,-10.15],[1.4,-9.9],[1.5,-9.65],[1.7,-9.85],[1.9,-9.6],[2.1,-9.95],[2.3,-9.75],[2.6,-9.95],[2.8,-9.8],[3.2,-10.0],[3.5,-9.65],[3.8,-9.95],[4.2,-9.85],[4.8,-10.05],[5.2,-9.9],[5.8,-10.15],[6.5,-10.25],[7.2,-10.05],[8,-10.15],[9,-9.85],[10,-10.15],[11,-9.95],[14,-10.05],[16,-9.65],[18,-9.85],[20,-9.95],[25,-10.15],[26,-9.55],[32,-10.9],[40,-11.3],[45,-11.2],[6,-10.7],[7,-10.5],[8,-10.9],[9,-11.0],[10,-11.2],[12,-10.7],[18,-10.9],[0.85,-11.4],[1.3,-9.8],[1.6,-9.95],[1.8,-9.75],[2.0,-10.1],[2.2,-9.85],[2.5,-10.05],[2.7,-9.7],[3.0,-9.9],[3.4,-10.1],[4.0,-9.75],[4.5,-9.95],[5.5,-9.75],[6.2,-10.0],[7.5,-9.9],[8.5,-10.05],[12,-9.8],[15,-9.95]];
const brbMagenta=[[0.7,-11.2],[1.0,-10.5],[1.1,-10.3],[1.3,-10.1],[1.5,-10.3],[1.8,-10.0],[2.0,-10.25],[2.3,-10.1],[2.6,-10.4],[3.0,-10.15],[3.4,-10.6],[3.8,-10.3],[4.2,-10.8],[5,-10.7],[6,-10.9],[7,-11.2],[10,-10.3],[16,-10.9],[18,-10.1],[25,-10.4],[30,-10.2],[2.1,-10.4],[2.5,-10.2],[2.8,-10.5],[3.2,-10.3]];
const brbPurple=[[0.8,-11.0],[0.9,-10.8],[1.1,-10.6],[1.25,-10.4],[1.6,-10.9],[1.8,-10.6],[2.0,-10.65],[2.4,-10.7],[2.8,-10.9],[3.2,-11.1],[3.6,-11.2],[4.0,-10.9],[4.6,-11.3],[8,-10.4],[9,-10.3],[10,-10.6],[12,-11.0],[17,-10.2],[30,-10.7]];
const brbTeal=[[0.9,-11.2],[1.1,-10.9],[1.3,-11.1],[1.8,-10.5],[2.0,-10.7],[2.2,-10.9],[2.4,-10.6],[2.6,-11.0],[2.8,-11.2],[3.0,-10.9],[3.3,-11.3],[7,-10.7],[9,-10.3],[10,-10.7],[11,-10.8],[14,-11.2],[15,-10.7],[20,-10.6]];
const brbGray=[[2.3,-11.4],[12,-11.4],[25,-11.3]];
const brbLGray=[[1.6,-11.45],[10.5,-11.45]];

const brgDark=[[0.55,-7.3],[0.6,-6.8],[0.7,-6.5],[0.8,-6.9],[0.9,-6.3],[1.0,-6.6],[1.1,-6.1],[1.2,-6.4],[1.3,-6.0],[1.4,-6.3],[1.5,-5.9],[1.6,-6.2],[1.8,-6.0],[1.9,-6.4],[2.0,-5.8],[2.2,-6.1],[2.4,-5.9],[2.6,-6.3],[2.8,-5.7],[3.0,-6.0],[3.3,-5.8],[3.6,-6.2],[4.0,-5.6],[4.4,-5.9],[4.8,-5.7],[5.2,-6.1],[5.6,-5.5],[6,-5.8],[6.5,-5.6],[7,-6.0],[7.5,-5.4],[8,-5.7],[9,-5.5],[10,-5.8],[11,-5.3],[12,-5.6],[13,-5.4],[14,-5.2],[15,-5.5],[16,-5.3],[18,-5.6],[20,-5.2],[22,-5.4],[25,-5.0],[28,-5.3],[30,-5.1],[38,-4.9],[45,-5.1],[2.5,-6.5],[3.5,-6.4],[5,-6.3],[7,-6.2],[9,-6.0],[12,-5.9],[17,-5.8],[16,-4.5],[0.65,-7.0],[1.25,-6.2],[1.45,-6.1],[1.65,-6.0],[1.85,-6.2],[2.1,-6.0],[2.3,-5.9],[2.5,-6.1],[2.7,-5.9],[2.9,-6.1],[3.1,-5.9],[3.5,-5.8],[3.9,-6.0],[4.2,-5.8],[4.6,-5.7],[5.0,-5.9],[5.4,-5.7],[5.8,-5.8],[6.3,-5.6],[6.8,-5.8],[7.3,-5.5],[7.8,-5.7],[8.5,-5.5],[9.5,-5.6],[10.5,-5.4],[11.5,-5.5],[12.5,-5.3],[14.5,-5.4],[17,-5.2],[19,-5.4],[21,-5.1],[24,-5.2],[27,-5.0]];
const brgLight=[[0.65,-7.6],[1.3,-6.9],[1.6,-6.6],[1.8,-7.0],[2.0,-6.7],[2.2,-7.2],[2.5,-6.8],[2.8,-7.4],[3.0,-6.6],[3.3,-7.1],[3.6,-7.6],[4.0,-6.8],[4.5,-7.3],[5,-6.6],[5.5,-7.0],[6,-7.5],[7,-6.7],[8,-7.1],[9,-6.5],[10,-6.4],[12,-6.8],[14,-6.5],[3.2,-8.2],[2.5,-8.0],[4.2,-8.1],[6,-8.6],[8,-8.7],[11,-7.9],[15,-7.3],[1.0,-8.2],[3.8,-9.0],[20,-6.7],[2.7,-6.6],[3.4,-6.55],[4.3,-6.5],[5.8,-6.5]];
const brgRed=[[1.25,-10.2],[1.6,-10.05],[2.5,-9.9],[3.0,-9.85],[4.4,-10.0],[6.1,-9.85],[6.3,-9.75],[7.0,-9.65],[9.5,-9.75],[10.5,-10.1],[12,-9.6],[12.3,-10.0],[13.8,-9.85],[8.8,-10.25],[13.5,-10.6],[22,-10.35],[16,-8.6],[47,-9.0],[9.8,-9.95]];
const brgSalmon=[[1.0,-10.6],[1.1,-10.4],[1.2,-10.5],[1.4,-10.25],[1.5,-10.0],[1.7,-10.2],[1.9,-9.95],[2.1,-10.3],[2.3,-10.1],[2.6,-10.3],[2.8,-10.15],[3.2,-10.35],[3.5,-10.0],[3.8,-10.3],[4.2,-10.2],[4.8,-10.4],[5.2,-10.25],[5.8,-10.5],[6.5,-10.6],[7.2,-10.4],[8,-10.5],[9,-10.2],[10,-10.5],[11,-10.3],[14,-10.4],[16,-10.0],[18,-10.2],[20,-10.3],[25,-10.5],[26,-9.9],[32,-11.1],[40,-11.4],[6,-11.0],[7,-10.8],[8,-11.1],[9,-11.3],[12,-11.0],[18,-11.2],[1.3,-10.15],[1.6,-10.3],[1.8,-10.1],[2.0,-10.45],[2.2,-10.2],[2.5,-10.4],[2.7,-10.05],[3.0,-10.25],[3.4,-10.45],[4.0,-10.1],[4.5,-10.3],[5.5,-10.1],[6.2,-10.35],[7.5,-10.25],[8.5,-10.4],[12,-10.15],[15,-10.3]];
const brgMagenta=[[0.7,-11.4],[1.0,-10.8],[1.1,-10.6],[1.3,-10.5],[1.5,-10.6],[1.8,-10.4],[2.0,-10.6],[2.3,-10.45],[2.6,-10.7],[3.0,-10.5],[3.4,-10.9],[3.8,-10.6],[4.2,-11.1],[5,-11.0],[6,-11.2],[10,-10.6],[16,-11.2],[18,-10.4],[25,-10.7],[30,-10.5],[2.1,-10.75],[2.5,-10.55],[2.8,-10.85],[3.2,-10.65]];
const brgPurple=[[0.8,-11.2],[0.9,-11.0],[1.1,-10.9],[1.25,-10.7],[1.6,-11.1],[1.8,-10.9],[2.0,-10.95],[2.4,-11.0],[2.8,-11.2],[3.2,-11.35],[4.0,-11.2],[8,-10.7],[9,-10.6],[10,-10.9],[12,-11.3],[17,-10.5],[30,-11.0]];
const brgTeal=[[1.1,-11.2],[1.3,-11.3],[1.8,-10.8],[2.0,-11.0],[2.2,-11.2],[2.4,-10.9],[2.6,-11.3],[3.0,-11.2],[7,-11.0],[9,-10.6],[10,-11.0],[11,-11.1],[15,-11.0],[20,-10.9]];
const brgGray=[[2.3,-11.45],[25,-11.4]];
const brgLGray=[[1.6,-11.5]];

const lineNames=["Pa\u03b1","Pa\u03b2","Pa\u03b3","Br\u03b1","Br\u03b2","Br\u03b3"];
const lineWaves=["1.875","1.281","1.094","4.051","2.625","2.166"];

// ---------- rendering ----------
const NS="http://www.w3.org/2000/svg";
const svg=document.getElementById('fig');
const COL={dark:"#8f8f8f",light:"#cbcbcb",red:"#d90000",salmon:"#ff6361",magenta:"#b44b90",purple:"#5b4b8a",teal:"#003f5a",gray:"#9a9a9a",lgray:"#cfcfcf"};
function mk(tag,attrs,parent){const e=document.createElementNS(NS,tag);for(const k in attrs)e.setAttribute(k,attrs[k]);(parent||svg).appendChild(e);return e;}
function makeAxes(x0,x1,y0,y1,ymax,ymin){
  const lx0=Math.log10(0.5),lx1=Math.log10(49.7);
  return {x:m=>x0+(Math.log10(m)-lx0)/(lx1-lx0)*(x1-x0), y:v=>y0+(ymax-v)/(ymax-ymin)*(y1-y0)};
}
function crosses(g,pts,ax,s,w,color){
  pts.forEach(p=>{const cx=ax.x(p[0]),cy=ax.y(p[1]);
    const e=mk('path',{d:`M${cx-s} ${cy-s}L${cx+s} ${cy+s}M${cx-s} ${cy+s}L${cx+s} ${cy-s}`,stroke:color,'stroke-width':w,fill:'none'},g);
    
    
  });
}
function circles(g,pts,ax,r,w,color){
  pts.forEach(p=>{
    const e=mk('circle',{cx:ax.x(p[0]),cy:ax.y(p[1]),r:r,stroke:color,'stroke-width':w,fill:'none'},g);
    
    
  });
}
function frame(id,x0,x1,y0,y1,ax,yticks,ymin,ymax,big){
  const g=mk('g',{});
  
  
  const sw=big?6:4, maj=big?26:20, mnr=big?13:10;
  let d='';
  const xmaj=[1,10], xmin=[0.5,0.6,0.7,0.8,0.9,2,3,4,5,6,7,8,9,20,30,40];
  xmaj.forEach(m=>{const x=ax.x(m);d+=`M${x} ${y1}V${y1-maj}M${x} ${y0}V${y0+maj}`;});
  xmin.forEach(m=>{const x=ax.x(m);d+=`M${x} ${y1}V${y1-mnr}M${x} ${y0}V${y0+mnr}`;});
  yticks.forEach(v=>{const y=ax.y(v);d+=`M${x0} ${y}H${x0+maj}M${x1} ${y}H${x1-maj}`;});
  if(big){
    for(let b=Math.floor(ymin);b<ymax;b++){for(let k=2;k<=9;k++){const v=b+Math.log10(k);if(v>ymin&&v<ymax){const y=ax.y(v);d+=`M${x0} ${y}H${x0+mnr}M${x1} ${y}H${x1-mnr}`;}}}
  } else {
    for(let v=Math.ceil(ymin);v<ymax;v++){if(v%2!==0){const y=ax.y(v);d+=`M${x0} ${y}H${x0+mnr}M${x1} ${y}H${x1-mnr}`;}}
  }
  const t=mk('path',{d:d,stroke:'#000','stroke-width':sw,fill:'none'},g);
  
  
  const r=mk('rect',{x:x0,y:y0,width:x1-x0,height:y1-y0,fill:'none',stroke:'#000','stroke-width':sw},g);
  
  
  const fs=big?118:60;
  yticks.forEach(v=>{
    const e=mk('text',{x:x0-(big?36:18),y:ax.y(v)+fs*0.34,'text-anchor':'end','font-size':fs},g);
    e.textContent='\u2212'+Math.abs(v);
    
    
  });
  xTickVals.forEach(m=>{
    const e=mk('text',{x:ax.x(m),y:y1+(big?140:72),'text-anchor':'middle','font-size':fs},g);
    e.textContent=String(m);
    
    
  });
  const xt=mk('text',{x:(x0+x1)/2+(big?-1:-20),y:y1+(big?283:147),'text-anchor':'middle','font-size':big?128:66},g);
  xt.innerHTML='Mass (M<tspan font-size="'+(big?80:42)+'" dy="'+(big?30:16)+'">J</tspan><tspan dy="'+(big?-30:-16)+'">)</tspan>';
  
  
  const cx=big?848:x0-178, cy=(y0+y1)/2;
  const yt=mk('text',{x:0,y:0,'text-anchor':'middle','font-size':big?128:64,transform:`translate(${cx},${cy}) rotate(-90)`,'letter-spacing':big?8:4},g);
  yt.innerHTML='log Line luminosity (L<tspan font-size="'+(big?84:42)+'" dy="'+(big?22:11)+'">\u2299</tspan><tspan dy="'+(big?-22:-11)+'">)</tspan>';
  
  
}
function clipFor(id,x0,x1,y0,y1){
  const defs=svg.querySelector('defs');
  const cp=mk('clipPath',{id:'clip-'+id},defs);
  mk('rect',{x:x0,y:y0,width:x1-x0,height:y1-y0},cp);
  const g=mk('g',{'clip-path':'url(#clip-'+id+')'});
  
  
  return g;
}

// Hα main panel
(function(){
  const x0=1131,x1=2999,y0=43,y1=1613,ymax=-3.5,ymin=-9.5;
  const ax=makeAxes(x0,x1,y0,y1,ymax,ymin);
  const g=clipFor('halpha',x0,x1,y0,y1);
  [[pdsC,'pds70c-band'],[pdsB,'pds70b-band']].forEach(([b,n])=>{
    const e=mk('rect',{x:ax.x(b[0]),y:ax.y(b[2]),width:ax.x(b[1])-ax.x(b[0]),height:ax.y(b[3])-ax.y(b[2]),fill:'url(#hatch)'},g);
    
    
  });
  const w=mk('rect',{x:ax.x(wispit[0]),y:ax.y(wispit[2]),width:ax.x(wispit[1])-ax.x(wispit[0]),height:ax.y(wispit[3])-ax.y(wispit[2]),fill:'#ffc000'},g);
  
  
  crosses(g,haLight,ax,17,9,COL.light);
  crosses(g,haDark,ax,17,9,COL.dark);
  crosses(g,haDarkExtra,ax,17,9,COL.dark);
  circles(g,haLGray,ax,20,7.5,COL.lgray);
  circles(g,haGray,ax,20,7.5,COL.gray);
  circles(g,haTeal,ax,20,7.5,COL.teal);
  circles(g,haPurple,ax,20,7.5,COL.purple);
  circles(g,haMagenta,ax,20,7.5,COL.magenta);
  circles(g,haSalmon,ax,20,7.5,COL.salmon);
  circles(g,haRed,ax,20,7.5,COL.red);
  frame('halpha',x0,x1,y0,y1,ax,haYTicks,ymin,ymax,true);
  const lab=(txt,x,y,anchor,len,name)=>{const e=mk('text',{x:x,y:y,'text-anchor':anchor,'font-size':68,'font-weight':'bold',fill:'#ffc000',textLength:len,lengthAdjust:'spacingAndGlyphs'});e.textContent=txt;};
  lab('PDS70c',ax.x(pdsC[0])-224-24,ax.y(pdsC[2])+50,'start',224,'pds70c-label');
  lab('PDS70b',ax.x(pdsB[0])-224-20,ax.y(pdsB[2])+42,'start',224,'pds70b-label');
  lab('WISPIT2b',ax.x(wispit[0])-290,ax.y(wispit[2])+30,'start',268,'wispit2b-label');
  const t=mk('text',{x:2852,y:ax.y(typicalLimit)-29,'font-size':80,'font-weight':'bold',fill:'#8dc152','text-anchor':'middle'});
  t.textContent='typical';
  
  
  const d2=mk('text',{x:2852,y:ax.y(deepLimit)-32,'font-size':80,'font-weight':'bold',fill:'#8dc152','text-anchor':'middle'});
  d2.textContent='deep';
  
  
  [[typicalLimit,'typical-limit-arrow'],[deepLimit,'deep-limit-arrow']].forEach(([v,n])=>{
    const y=ax.y(v);
    const e=mk('path',{d:`M2816 ${y}H2888M2852 ${y}V${y+129}M2830 ${y+98}L2852 ${y+129}L2874 ${y+98}`,stroke:'#8dc152','stroke-width':5,fill:'none'});
    
    
  });
  const h=mk('text',{x:1246,y:172,'font-size':110});
  h.innerHTML='H<tspan font-style="italic">\u03b1</tspan>';
  
  
})();

// small panels
const smallSets=[
 [paaDark,paaLight,paaLGray,paaGray,paaTeal,paaPurple,paaMagenta,paaSalmon,paaRed],
 [pabDark,pabLight,pabLGray,pabGray,pabTeal,pabPurple,pabMagenta,pabSalmon,pabRed],
 [pagDark,pagLight,pagLGray,pagGray,pagTeal,pagPurple,pagMagenta,pagSalmon,pagRed],
 [braDark,braLight,braLGray,braGray,braTeal,braPurple,braMagenta,braSalmon,braRed],
 [brbDark,brbLight,brbLGray,brbGray,brbTeal,brbPurple,brbMagenta,brbSalmon,brbRed],
 [brgDark,brgLight,brgLGray,brgGray,brgTeal,brgPurple,brgMagenta,brgSalmon,brgRed]];
const colX=[[240,1202],[1489,2451],[2736,3699]];
const rowY=[[1973,2782],[2977,3786]];
smallSets.forEach((s,i)=>{
  const [x0,x1]=colX[i%3],[y0,y1]=rowY[Math.floor(i/3)];
  const ymax=-3.5,ymin=-11.5;
  const ax=makeAxes(x0,x1,y0,y1,ymax,ymin);
  const id='panel-'+lineNames[i].replace(/[^A-Za-z]/g,'').toLowerCase()+i;
  const g=clipFor(id,x0,x1,y0,y1);
  crosses(g,s[1],ax,11,6,COL.light);
  crosses(g,s[0],ax,11,6,'#999999');
  circles(g,s[2],ax,12.5,5.5,COL.lgray);
  circles(g,s[3],ax,12.5,5.5,COL.gray);
  circles(g,s[4],ax,12.5,5.5,COL.teal);
  circles(g,s[5],ax,12.5,5.5,COL.purple);
  circles(g,s[6],ax,12.5,5.5,COL.magenta);
  circles(g,s[7],ax,12.5,5.5,COL.salmon);
  circles(g,s[8],ax,12.5,5.5,COL.red);
  frame(id,x0,x1,y0,y1,ax,smYTicks,ymin,ymax,false);
  const n=mk('text',{x:x0+58,y:y0+84,'font-size':58});
  n.innerHTML=lineNames[i].slice(0,2)+'<tspan font-style="italic">'+lineNames[i].slice(2)+'</tspan>';
  
  
  const wv=mk('text',{x:x0+58,y:y0+125,'font-size':46,fill:'#cccccc'});
  wv.innerHTML=lineWaves[i]+' <tspan font-style="italic">\u03bc</tspan>m';
  
  
});
</script>
</body></html>
